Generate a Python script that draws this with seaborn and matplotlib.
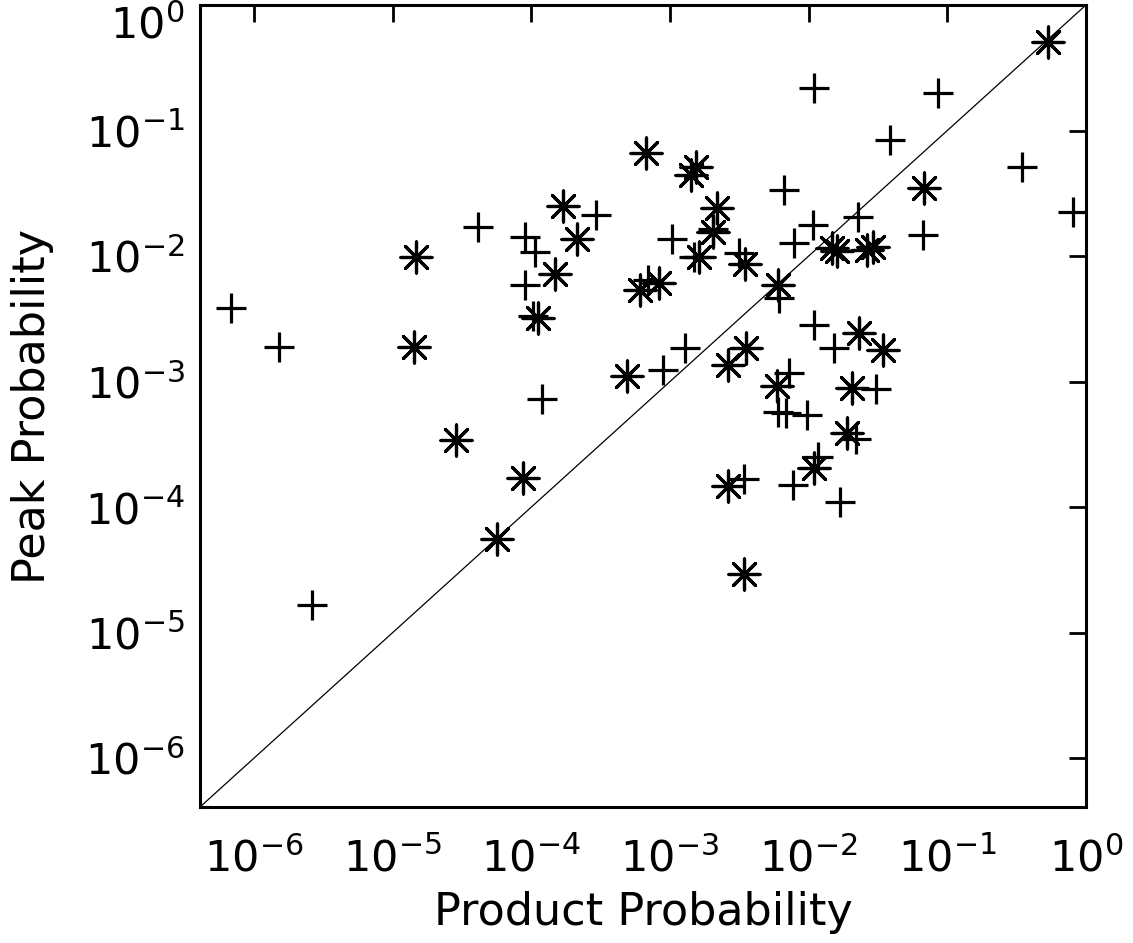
import numpy as np
import pandas as pd
import matplotlib
matplotlib.use("Agg")
import matplotlib.pyplot as plt
import seaborn as sns
from matplotlib.ticker import FixedLocator, NullLocator, LogFormatterSciNotation

# data (probabilities)
star_product = [1.48e-5, 1.43e-5, 2.87e-5, 8.75e-5, 5.69e-5, 1.70e-4, 2.15e-4, 1.49e-4,
                1.12e-4, 6.76e-4, 1.53e-3, 1.41e-3, 2.17e-3, 2.03e-3, 1.61e-3, 6.12e-4,
                8.39e-4, 3.45e-3, 5.97e-3, 4.93e-4, 3.51e-3, 2.64e-3, 5.87e-3, 2.60e-3,
                3.40e-3, 1.10e-2, 1.88e-2, 2.04e-2, 2.30e-2, 3.42e-2, 1.47e-2, 1.59e-2,
                2.62e-2, 2.90e-2, 6.76e-2, 0.532]
star_peak = [9.8e-3, 1.87e-3, 3.40e-4, 1.69e-4, 5.52e-5, 2.49e-2, 1.36e-2, 7.16e-3,
             3.19e-3, 6.61e-2, 5.11e-2, 4.41e-2, 2.40e-2, 1.55e-2, 9.8e-3, 5.33e-3,
             6.07e-3, 8.61e-3, 5.85e-3, 1.10e-3, 1.84e-3, 1.35e-3, 9.16e-4, 1.46e-4,
             2.95e-5, 2.03e-4, 3.86e-4, 8.83e-4, 2.42e-3, 1.77e-3, 1.15e-2, 1.09e-2,
             1.11e-2, 1.17e-2, 3.48e-2, 0.507]

plus_product = [6.82e-7, 1.52e-6, 2.62e-6, 4.14e-5, 9.06e-5, 1.07e-4, 9.06e-5, 1.03e-4,
                2.94e-4, 1.20e-4, 6.89e-4, 1.04e-3, 1.48e-3, 2.03e-3, 3.13e-3, 6.59e-3,
                6.07e-3, 8.97e-4, 1.29e-3, 7.18e-3, 1.09e-2, 1.52e-2, 5.97e-3, 6.82e-3,
                9.68e-3, 3.05e-2, 2.18e-2, 1.16e-2, 7.66e-3, 3.40e-3, 1.67e-2, 1.09e-2,
                8.53e-2, 3.85e-2, 0.345, 0.805, 1.07e-2, 2.26e-2, 7.80e-3, 6.65e-2]
plus_peak = [3.84e-3, 1.87e-3, 1.67e-5, 1.70e-2, 1.41e-2, 1.07e-2, 5.85e-3, 3.31e-3,
             2.11e-2, 7.21e-4, 6.41e-3, 1.36e-2, 9.8e-3, 1.64e-2, 1.05e-2, 3.35e-2,
             4.61e-3, 1.23e-3, 1.84e-3, 1.18e-3, 2.81e-3, 1.84e-3, 5.68e-4, 5.57e-4,
             5.37e-4, 8.67e-4, 3.46e-4, 2.49e-4, 1.51e-4, 1.66e-4, 1.09e-4, 0.218,
             0.199, 8.38e-2, 5.11e-2, 2.23e-2, 1.76e-2, 2.04e-2, 1.26e-2, 1.47e-2]

tick_values = [1e-6, 1e-5, 1e-4, 1e-3, 1e-2, 1e-1, 1e0]

lo, hi = 10 ** -6.39, 1.0

sns.set_style("white")
plt.rcParams['font.family'] = ['DejaVu Sans']
plt.rcParams['mathtext.fontset'] = 'dejavusans'
plt.rcParams['text.color'] = 'black'
plt.rcParams['axes.labelcolor'] = 'black'

fig = plt.figure(figsize=(11.33, 9.43), dpi=100)
ax = fig.add_axes([0.1765, 0.1442, 0.782, 0.8505])

# one-to-one line
ax.plot([lo, hi], [lo, hi], color='black', lw=0.9, zorder=1)

stars = pd.DataFrame({'product': star_product, 'peak': star_peak})
pluses = pd.DataFrame({'product': plus_product, 'peak': plus_peak})

sns.scatterplot(data=pluses, x='product', y='peak', marker='+', s=480,
                color='black', linewidth=2.3, ax=ax, zorder=3)
sns.scatterplot(data=stars, x='product', y='peak', marker=(8, 2, 0), s=500,
                color='black', linewidth=2.3, ax=ax, zorder=3)

ax.set_xscale('log')
ax.set_yscale('log')
ax.set_xlim(lo, hi)
ax.set_ylim(lo, hi)
for axis in (ax.xaxis, ax.yaxis):
    axis.set_major_locator(FixedLocator(tick_values))
    axis.set_major_formatter(LogFormatterSciNotation())
    axis.set_minor_locator(NullLocator())

ax.tick_params(axis='both', which='major', direction='in', length=12, width=2,
               top=True, right=True, labelsize=31, colors='black')
ax.tick_params(axis='x', pad=22)
ax.tick_params(axis='y', pad=11)
for sp in ax.spines.values():
    sp.set_linewidth(2.2)
    sp.set_color('black')

ax.set_xlabel('Product Probability', fontsize=32, labelpad=8)
ax.set_ylabel('Peak Probability', fontsize=32, labelpad=22)

# the top y label sits just under the corner, as in the original
fig.canvas.draw()
for tick in ax.yaxis.get_major_ticks():
    if np.isclose(tick.get_loc(), 1.0):
        tick.label1.set_va('top')

fig.savefig('out.png', dpi=100)
